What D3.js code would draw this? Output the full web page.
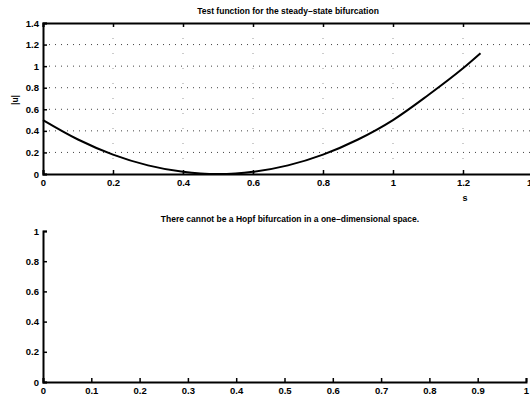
<!DOCTYPE html>
<html>
<head>
<meta charset="utf-8">
<script src="https://cdn.jsdelivr.net/npm/d3@7"></script>
<style>
  body { margin: 0; background: #fff; }
  text { font-family: Arial, "Liberation Sans", sans-serif; font-weight: bold; fill: #000; }
</style>
</head>
<body>
<svg id="chart" width="530" height="398"></svg>
<script>
// data
const sValues = [0, 0.1, 0.2, 0.3, 0.4, 0.45, 0.5, 0.55, 0.6, 0.7, 0.8, 0.9, 1.0, 1.1, 1.2, 1.25];
const testValues = [0.5, 0.32, 0.18, 0.08, 0.02, 0.005, 0, 0.005, 0.02, 0.08, 0.18, 0.32, 0.5, 0.73, 0.98, 1.12];
const topXTicks = [0, 0.2, 0.4, 0.6, 0.8, 1, 1.2, 1.4];
const topYTicks = [0, 0.2, 0.4, 0.6, 0.8, 1, 1.2, 1.4];
const bottomXTicks = [0, 0.1, 0.2, 0.3, 0.4, 0.5, 0.6, 0.7, 0.8, 0.9, 1];
const bottomYTicks = [0, 0.2, 0.4, 0.6, 0.8, 1];
const topTitle = "Test function for the steady\u2013state bifurcation";
const bottomTitle = "There cannot be a Hopf bifurcation in a one\u2013dimensional space.";

const svg = d3.select("#chart");
const fmt = (d) => (d === 0 ? "0" : d === 1 ? "1" : String(d));

// 1. top panel
const x1 = d3.scaleLinear().domain([0, 1.4]).range([43, 533]);
const y1 = d3.scaleLinear().domain([0, 1.4]).range([174, 23]);

const grid = svg.append("g");
grid.selectAll(".hg")
  .data(topYTicks.slice(1, -1))
  .enter()
  .append("line")
  .attr("x1", x1(0))
  .attr("x2", x1(1.4))
  .attr("y1", (d) => y1(d))
  .attr("y2", (d) => y1(d))
  .attr("stroke", "#444")
  .attr("stroke-width", 1)
  .attr("stroke-dasharray", "1,5");
grid.selectAll(".vg")
  .data(topXTicks.slice(1, -1))
  .enter()
  .append("line")
  .attr("x1", (d) => x1(d))
  .attr("x2", (d) => x1(d))
  .attr("y1", y1(0))
  .attr("y2", y1(1.4))
  .attr("stroke", "#999")
  .attr("stroke-width", 1)
  .attr("stroke-dasharray", "1,14");

const xAxisTop = svg.append("g")
  .attr("transform", `translate(0,${y1(0)})`)
  .call(d3.axisBottom(x1).tickValues(topXTicks).tickSize(-4).tickPadding(5).tickFormat(fmt));
const yAxisTop = svg.append("g")
  .attr("transform", `translate(${x1(0)},0)`)
  .call(d3.axisLeft(y1).tickValues(topYTicks).tickSize(-4).tickPadding(4).tickFormat(fmt));
// top border with ticks
svg.append("g")
  .attr("transform", `translate(0,${y1(1.4)})`)
  .call(d3.axisTop(x1).tickValues(topXTicks).tickSize(-4).tickFormat(""));

[xAxisTop, yAxisTop].forEach((a) => {
  a.selectAll("text").style("font-size", "9.5px");
});
svg.selectAll(".domain").attr("stroke", "#000").attr("stroke-width", 2);
svg.selectAll(".tick line").attr("stroke", "#000").attr("stroke-width", 1.5);

const line = d3.line()
  .x((d, i) => x1(sValues[i]))
  .y((d) => y1(d))
  .curve(d3.curveMonotoneX);
svg.append("path")
  .datum(testValues)
  .attr("d", line)
  .attr("fill", "none")
  .attr("stroke", "#000")
  .attr("stroke-width", 2);

svg.append("text")
  .attr("x", 288)
  .attr("y", 14)
  .attr("text-anchor", "middle")
  .style("font-size", "8.5px")
  .text(topTitle);
svg.append("text")
  .attr("x", 465)
  .attr("y", 201)
  .attr("text-anchor", "middle")
  .style("font-size", "9px")
  .text("s");
svg.append("text")
  .attr("transform", "translate(18,100) rotate(-90)")
  .attr("text-anchor", "middle")
  .style("font-size", "8.5px")
  .text("|u|");

// 2. bottom panel
const x2 = d3.scaleLinear().domain([0, 1]).range([43, 526]);
const y2 = d3.scaleLinear().domain([0, 1]).range([382, 231]);

const xAxisBottom = svg.append("g")
  .attr("transform", `translate(0,${y2(0)})`)
  .call(d3.axisBottom(x2).tickValues(bottomXTicks).tickSize(-4).tickPadding(5).tickFormat(fmt));
const yAxisBottom = svg.append("g")
  .attr("transform", `translate(${x2(0)},0)`)
  .call(d3.axisLeft(y2).tickValues(bottomYTicks).tickSize(-4).tickPadding(4).tickFormat(fmt));
[xAxisBottom, yAxisBottom].forEach((a) => {
  a.selectAll("text").style("font-size", "9.5px");
  a.select(".domain").attr("stroke", "#000").attr("stroke-width", 2);
  a.selectAll(".tick line").attr("stroke", "#000").attr("stroke-width", 1.5);
});

svg.append("text")
  .attr("x", 290)
  .attr("y", 222)
  .attr("text-anchor", "middle")
  .style("font-size", "8.5px")
  .text(bottomTitle);
</script>
</body>
</html>
